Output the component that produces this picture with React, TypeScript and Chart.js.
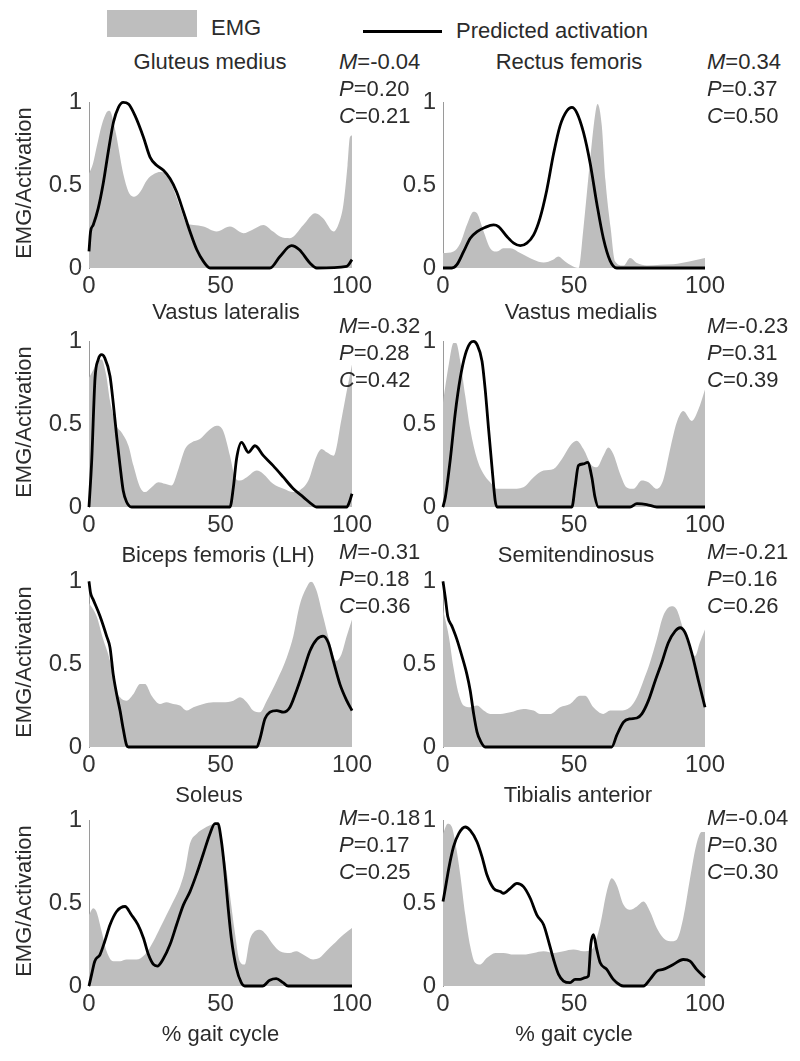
import React, { useEffect, useRef } from "react";
import { Chart, registerables } from "chart.js";

Chart.register(...registerables);

type Pt = [number, number];

// ---------- data ----------
const xTickValues = [0, 50, 100];
const yTickValues = [0, 0.5, 1];
const yTickLabels = ["0", "0.5", "1"];

const muscleNames = [
  "Gluteus medius",
  "Rectus femoris",
  "Vastus lateralis",
  "Vastus medialis",
  "Biceps femoris (LH)",
  "Semitendinosus",
  "Soleus",
  "Tibialis anterior",
];
const statM = ["-0.04", "0.34", "-0.32", "-0.23", "-0.31", "-0.21", "-0.18", "-0.04"];
const statP = ["0.20", "0.37", "0.28", "0.31", "0.18", "0.16", "0.17", "0.30"];
const statC = ["0.21", "0.50", "0.42", "0.39", "0.36", "0.26", "0.25", "0.30"];

const gluteusEmg: Pt[] = [[0,0.57],[1.5,0.63],[2.9,0.73],[4.8,0.86],[6.7,0.94],[7.8,0.95],[10,0.83],[13,0.57],[15,0.46],[17.2,0.43],[19.5,0.46],[22,0.53],[25,0.57],[27,0.58],[29,0.57],[31,0.52],[33,0.44],[35,0.35],[37,0.27],[39.7,0.26],[43.5,0.25],[48.5,0.22],[53.6,0.25],[58.7,0.21],[62,0.23],[66.3,0.26],[70,0.22],[72.6,0.19],[76.4,0.18],[81.5,0.26],[86,0.33],[89,0.30],[93,0.22],[95,0.27],[96.7,0.38],[98.3,0.62],[99.2,0.79],[100,0.8]];
const gluteusAct: Pt[] = [[0,0.1],[0.6,0.22],[1.6,0.26],[3.5,0.36],[5.4,0.51],[7.4,0.71],[9.3,0.88],[11.2,0.97],[13,1.0],[15,0.99],[17.5,0.92],[20.7,0.79],[23.2,0.67],[25.7,0.62],[28.3,0.59],[30.8,0.54],[33.3,0.46],[35.9,0.34],[38.4,0.22],[41,0.11],[43.5,0.04],[46,0],[68.8,0],[72.6,0.07],[77,0.135],[80,0.11],[84,0.03],[86.6,0],[98,0.01],[100,0.05]];

const rectusEmg: Pt[] = [[0,0.09],[4,0.1],[6.6,0.15],[9.1,0.26],[11.7,0.34],[13,0.33],[15.5,0.22],[18,0.12],[20.6,0.1],[23,0.12],[25.7,0.12],[29.5,0.09],[34.6,0.05],[38.4,0.033],[42,0.05],[44,0.07],[46.6,0.04],[49,0.015],[51.7,0],[53.6,0.24],[56,0.63],[58,0.92],[59,0.99],[60.6,0.86],[62,0.53],[64,0.24],[65.7,0.04],[69,0.015],[71.4,0.06],[74,0.03],[77.8,0.015],[83,0.02],[88,0.023],[94,0.04],[100,0.06]];
const rectusAct: Pt[] = [[0,0],[3.4,0],[5.3,0.02],[7.9,0.1],[10.4,0.18],[13,0.22],[16,0.245],[19.3,0.26],[21.2,0.25],[24.4,0.19],[27,0.15],[29.5,0.135],[32,0.15],[34.6,0.2],[37,0.3],[39.6,0.47],[42.2,0.69],[44.7,0.86],[47.3,0.95],[49.2,0.97],[51,0.94],[53.6,0.82],[56.2,0.63],[58.7,0.39],[61.2,0.18],[63.8,0.043],[66.3,0],[100,0]];

const vastusLatEmg: Pt[] = [[0,0.78],[2,0.84],[3.5,0.88],[4.8,0.89],[6.5,0.8],[8,0.64],[10.5,0.49],[12.4,0.45],[15,0.37],[16.9,0.25],[19.4,0.12],[21.3,0.09],[23.8,0.12],[26.4,0.15],[28.9,0.14],[31.4,0.13],[34,0.23],[36.5,0.35],[39,0.39],[42.2,0.41],[45.4,0.46],[48.5,0.49],[51,0.46],[53.6,0.31],[55.5,0.18],[57.4,0.16],[60,0.18],[63.8,0.22],[66.3,0.2],[70,0.14],[74,0.11],[77.7,0.09],[80,0.1],[83.4,0.16],[86.6,0.31],[88.5,0.35],[90.4,0.33],[93,0.31],[96,0.53],[98,0.7],[100,0.86]];
const vastusLatAct: Pt[] = [[0,0],[1,0.27],[2.3,0.78],[3.5,0.89],[4.8,0.92],[6,0.9],[8,0.79],[9.2,0.63],[10.5,0.43],[11.8,0.25],[13,0.1],[14.3,0.03],[16.2,0],[53.6,0],[54.9,0.12],[56.1,0.29],[58,0.39],[60.6,0.33],[63.1,0.37],[66.3,0.31],[70,0.25],[73.9,0.18],[77.7,0.11],[81.5,0.06],[85.3,0.01],[86.5,0],[98,0],[99,0.03],[100,0.08]];

const vastusMedEmg: Pt[] = [[0,0.63],[2.2,0.86],[4,0.99],[5,0.99],[6.6,0.88],[8.5,0.67],[10.4,0.47],[13,0.29],[15.5,0.2],[18,0.15],[20.6,0.11],[25.7,0.11],[30.7,0.12],[34.6,0.18],[38.4,0.22],[42.2,0.23],[45.4,0.29],[48.5,0.37],[51,0.4],[53.6,0.35],[56.8,0.25],[58.7,0.24],[61.2,0.31],[63.1,0.36],[65,0.32],[67.6,0.2],[70,0.12],[72.7,0.11],[75.9,0.16],[78.4,0.15],[81.6,0.11],[84,0.16],[86.7,0.35],[89.2,0.51],[91.7,0.58],[95,0.52],[97.5,0.59],[100,0.71]];
const vastusMedAct: Pt[] = [[0,0],[0.9,0.06],[2.8,0.29],[4.7,0.57],[6.6,0.78],[8.5,0.92],[10.4,0.99],[11.7,1.0],[13,0.98],[14.9,0.88],[16.1,0.71],[17.4,0.47],[18.7,0.24],[19.9,0.04],[20.6,0],[49.2,0],[50.4,0.12],[51.7,0.25],[53.6,0.26],[55.2,0.27],[56.8,0.18],[58,0.06],[59.3,0],[71.4,0],[74,0.02],[77.8,0.015],[81.6,0],[100,0]];

const bicepsEmg: Pt[] = [[0,0.87],[2.9,0.79],[5.4,0.65],[8,0.52],[9.9,0.36],[11.8,0.3],[14.3,0.28],[16.9,0.32],[19.4,0.38],[21.3,0.38],[23.8,0.31],[27,0.26],[29.5,0.27],[32,0.26],[34.6,0.25],[37.1,0.22],[39.7,0.24],[43.5,0.26],[47.3,0.27],[51,0.27],[54.9,0.28],[57.4,0.3],[60,0.27],[62.4,0.22],[65,0.21],[67.6,0.28],[71.4,0.4],[75.2,0.54],[77.7,0.67],[80,0.85],[82.6,0.96],[84.5,1.0],[86.4,0.95],[89,0.79],[91.6,0.63],[94,0.52],[96,0.56],[98,0.67],[100,0.77]];
const bicepsAct: Pt[] = [[0,1.0],[0.6,0.93],[1.6,0.89],[4.2,0.79],[6.7,0.67],[8,0.6],[9.2,0.44],[10.5,0.32],[11.8,0.22],[13,0.11],[14.3,0.01],[15,0],[63.8,0],[65,0.05],[66.9,0.17],[68.8,0.21],[71.4,0.22],[73.9,0.21],[76.4,0.24],[78.9,0.34],[81.5,0.46],[84,0.58],[86.6,0.65],[89,0.67],[91,0.63],[92.9,0.52],[95.4,0.38],[98,0.28],[100,0.22]];

const semitendEmg: Pt[] = [[0,0.83],[2.2,0.67],[4,0.48],[6,0.32],[7.9,0.25],[10.4,0.24],[13,0.25],[15.5,0.22],[18,0.2],[21.9,0.2],[25.7,0.21],[30.7,0.23],[34.6,0.22],[37,0.2],[41,0.2],[44.7,0.24],[48.5,0.26],[52.3,0.31],[54.3,0.31],[57.4,0.24],[61.2,0.2],[63.8,0.22],[67.6,0.22],[71.4,0.24],[74,0.3],[76.5,0.4],[79,0.51],[81.6,0.65],[84,0.79],[87.3,0.85],[89.2,0.83],[91.7,0.71],[94.3,0.59],[96.2,0.55],[98,0.63],[100,0.71]];
const semitendAct: Pt[] = [[0,1.0],[0.9,0.9],[1.8,0.79],[3.4,0.73],[5.3,0.65],[7.2,0.55],[9.1,0.44],[10.4,0.34],[11.7,0.2],[13,0.09],[14.2,0.04],[16.1,0],[64.4,0],[66.3,0.07],[68.9,0.15],[71.4,0.17],[74,0.175],[75.9,0.2],[78.4,0.28],[81,0.4],[83.5,0.51],[86,0.63],[88.6,0.7],[90.5,0.72],[92.4,0.69],[94.9,0.57],[97.5,0.4],[100,0.24]];

const soleusEmg: Pt[] = [[0,0.43],[1.6,0.47],[2.8,0.45],[4.8,0.33],[6.7,0.21],[9.2,0.15],[11.8,0.15],[14.3,0.16],[18,0.16],[21.3,0.19],[24.5,0.27],[27,0.35],[29.5,0.43],[32,0.51],[34.6,0.6],[36.5,0.7],[38.4,0.86],[41,0.92],[43.5,0.95],[46,0.97],[47.9,0.98],[49.8,0.92],[51.7,0.76],[53.5,0.56],[55.4,0.33],[57.3,0.15],[59.2,0.13],[61,0.27],[63,0.33],[65,0.34],[67.4,0.31],[70,0.25],[72.6,0.21],[76.3,0.2],[78.8,0.21],[81.4,0.19],[85.2,0.16],[87.7,0.17],[90.2,0.21],[92.8,0.25],[96.7,0.31],[100,0.35]];
const soleusAct: Pt[] = [[0,0],[1,0.07],[2.2,0.15],[4.2,0.19],[6,0.27],[8,0.37],[10.5,0.45],[13.7,0.48],[16.1,0.43],[18.6,0.37],[20.7,0.29],[22.6,0.19],[24.5,0.13],[26,0.12],[28.1,0.16],[30.8,0.25],[33.3,0.37],[35.9,0.49],[38.4,0.57],[41,0.68],[43.5,0.8],[46,0.92],[47.9,0.98],[49,0.98],[50.3,0.88],[51.6,0.7],[52.8,0.49],[54.1,0.29],[56,0.11],[57.9,0.02],[59.2,0],[66,0],[68.7,0.035],[71.2,0.045],[73.8,0.02],[75.7,0],[100,0]];

const tibialisEmg: Pt[] = [[0,0.92],[1.8,0.98],[3.4,0.96],[5,0.84],[6.6,0.67],[8.5,0.43],[10.4,0.24],[12.3,0.14],[14.2,0.13],[16.8,0.17],[20,0.2],[23,0.2],[27,0.19],[30.7,0.19],[34.6,0.2],[38.4,0.21],[42.2,0.2],[46,0.21],[49.8,0.22],[53.6,0.21],[56.8,0.22],[60,0.37],[62.5,0.57],[64.4,0.65],[66.3,0.61],[68.9,0.49],[71.4,0.46],[74,0.48],[76.5,0.51],[79,0.45],[81.6,0.35],[84.1,0.29],[86.7,0.27],[89.2,0.28],[91.7,0.41],[94.3,0.65],[96.8,0.86],[98.7,0.93],[100,0.93]];
const tibialisAct: Pt[] = [[0,0.51],[0.9,0.59],[2.2,0.71],[4,0.84],[6,0.92],[8.5,0.96],[10.4,0.94],[13,0.87],[14.9,0.78],[16.8,0.67],[19.3,0.59],[21.9,0.57],[23.1,0.56],[25.7,0.59],[28.2,0.62],[30.7,0.6],[33.3,0.53],[35.8,0.43],[38.4,0.37],[40.3,0.27],[42.2,0.16],[44.1,0.07],[46,0.03],[48.5,0.02],[50.4,0.04],[52.3,0.04],[54.3,0.05],[55.5,0.06],[56.4,0.25],[57.4,0.31],[58.7,0.22],[60,0.14],[62.5,0.1],[65,0.04],[67.6,0.006],[68.9,0],[76.5,0],[79,0.04],[81.6,0.09],[84,0.1],[87.9,0.13],[91.7,0.16],[94.3,0.15],[96.8,0.1],[100,0.05]];

const emgSeries = [gluteusEmg, rectusEmg, vastusLatEmg, vastusMedEmg, bicepsEmg, semitendEmg, soleusEmg, tibialisEmg];
const actSeries = [gluteusAct, rectusAct, vastusLatAct, vastusMedAct, bicepsAct, semitendAct, soleusAct, tibialisAct];

// ---------- layout ----------
const FONT = '"Liberation Sans", Arial, Helvetica, sans-serif';
const TICK_FONT = '"Liberation Sans Narrow", "Arial Narrow", "Liberation Sans", Arial, sans-serif';
const TEXT = "#2b2b2b";
const EMG_GRAY = "#bebebe";
const plotLefts = [89, 443];
const plotWidths = [263, 262];
const plotTops = [97, 336, 576, 815];
const plotHeight = 171;
const titleCenters: [number, number][] = [
  [210, 62], [569, 62],
  [226, 312], [581, 312],
  [218, 555], [576, 555],
  [209, 795], [578, 795],
];
const statLefts = [339, 707];
const statTopRows = [62, 326, 552, 818];
const statGap = 27;

const AXIS_W = 60;
const PAD_TOP = 16;
const PAD_RIGHT = 25;
const XAXIS_H = 40;

function Panel({ idx }: { idx: number }) {
  const ref = useRef<HTMLCanvasElement | null>(null);
  const col = idx % 2;
  const row = Math.floor(idx / 2);
  const left = plotLefts[col] - AXIS_W;
  const top = plotTops[row] - PAD_TOP;
  const width = plotWidths[col] + AXIS_W + PAD_RIGHT;
  const height = plotHeight + PAD_TOP + XAXIS_H;

  useEffect(() => {
    if (!ref.current) return;
    const tickFont = { family: TICK_FONT, size: 24 };
    const chart = new Chart(ref.current, {
      type: "line",
      data: {
        datasets: [
          {
            label: "Predicted activation",
            data: actSeries[idx].map(([x, y]) => ({ x, y })),
            borderColor: "#000",
            borderWidth: 2.8,
            pointRadius: 0,
            fill: false,
            cubicInterpolationMode: "monotone",
            order: 0,
            clip: 6,
          } as any,
          {
            label: "EMG",
            data: emgSeries[idx].map(([x, y]) => ({ x, y })),
            borderWidth: 0,
            borderColor: EMG_GRAY,
            backgroundColor: EMG_GRAY,
            pointRadius: 0,
            fill: "origin",
            cubicInterpolationMode: "monotone",
            order: 1,
          } as any,
        ],
      },
      options: {
        animation: false,
        responsive: false,
        events: [],
        layout: { padding: { top: PAD_TOP, right: PAD_RIGHT, left: 0, bottom: 0 } },
        plugins: { legend: { display: false }, tooltip: { enabled: false } },
        scales: {
          x: {
            type: "linear",
            min: 0,
            max: 100,
            afterBuildTicks: (s: any) => {
              s.ticks = xTickValues.map((v) => ({ value: v }));
            },
            grid: { display: false, drawTicks: false },
            border: { display: false },
            ticks: { padding: 4, color: "#333", font: tickFont, maxRotation: 0, autoSkip: false },
            afterFit: (s: any) => {
              s.height = XAXIS_H;
            },
          },
          y: {
            min: 0,
            max: 1,
            afterBuildTicks: (s: any) => {
              s.ticks = yTickValues.map((v) => ({ value: v }));
            },
            grid: { display: false, drawTicks: false },
            border: { display: true, color: "#9a9a9a", width: 1 },
            ticks: {
              padding: 7,
              color: "#333",
              font: tickFont,
              autoSkip: false,
              callback: (v: any) => {
                const i = yTickValues.indexOf(Number(v));
                return i >= 0 ? yTickLabels[i] : "";
              },
            },
            afterFit: (s: any) => {
              s.width = AXIS_W;
            },
          },
        },
      } as any,
    });
    return () => chart.destroy();
  }, [idx]);

  return (
    <canvas
      ref={ref}
      width={width}
      height={height}
      style={{ position: "absolute", left, top, width, height }}
    />
  );
}

function Txt({
  x,
  y,
  center,
  children,
  rotate,
}: {
  x: number;
  y: number;
  center?: boolean;
  rotate?: boolean;
  children: React.ReactNode;
}) {
  let transform = center ? "translate(-50%,-50%)" : "translateY(-50%)";
  if (rotate) transform = "translate(-50%,-50%) rotate(-90deg)";
  return (
    <div
      style={{
        position: "absolute",
        left: x,
        top: y,
        transform,
        whiteSpace: "nowrap",
        fontSize: 22,
        lineHeight: 1,
        color: TEXT,
        fontFamily: FONT,
      }}
    >
      {children}
    </div>
  );
}

export default function App() {
  return (
    <div
      style={{
        position: "absolute",
        left: 0,
        top: 0,
        width: 800,
        height: 1061,
        background: "#fff",
        overflow: "hidden",
        fontFamily: FONT,
      }}
    >
      {/* legend */}
      <div style={{ position: "absolute", left: 107, top: 10, width: 90, height: 27, background: EMG_GRAY }} />
      <Txt x={211} y={28}>EMG</Txt>
      <div style={{ position: "absolute", left: 363, top: 30, width: 79, height: 3, background: "#000" }} />
      <Txt x={456} y={31}>Predicted activation</Txt>

      {muscleNames.map((name, i) => (
        <Panel key={"p" + i} idx={i} />
      ))}

      {muscleNames.map((name, i) => (
        <Txt key={"t" + i} x={titleCenters[i][0]} y={titleCenters[i][1]} center>
          {name}
        </Txt>
      ))}

      {muscleNames.map((name, i) => {
        const col = i % 2;
        const row = Math.floor(i / 2);
        const x = statLefts[col];
        const y0 = statTopRows[row];
        return (
          <React.Fragment key={"s" + i}>
            <Txt x={x} y={y0}>
              <i>M</i>={statM[i]}
            </Txt>
            <Txt x={x} y={y0 + statGap}>
              <i>P</i>={statP[i]}
            </Txt>
            <Txt x={x} y={y0 + 2 * statGap}>
              <i>C</i>={statC[i]}
            </Txt>
          </React.Fragment>
        );
      })}

      {plotTops.map((t, r) => (
        <Txt key={"y" + r} x={24} y={t + plotHeight / 2} rotate>
          EMG/Activation
        </Txt>
      ))}

      {plotLefts.map((l, c) => (
        <Txt key={"x" + c} x={l + plotWidths[c] / 2} y={1034} center>
          % gait cycle
        </Txt>
      ))}
    </div>
  );
}
